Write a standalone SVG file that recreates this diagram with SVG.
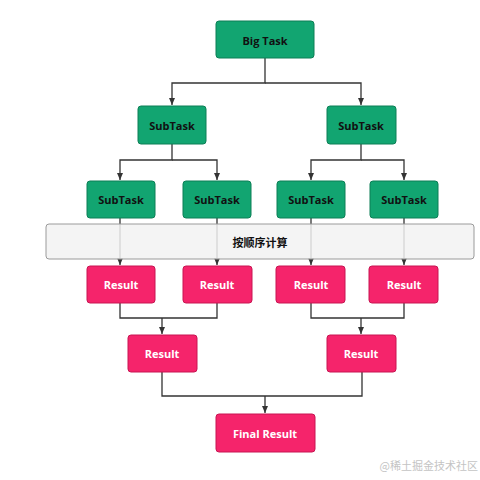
<svg xmlns="http://www.w3.org/2000/svg" width="480" height="480" viewBox="0 0 480 480">
<style>
.g{fill:#12a571;stroke:#0c7f56;stroke-width:1}
.p{fill:#f5246b;stroke:#c81552;stroke-width:1}
.tg{font-family:"Open Sans","Noto Sans",sans-serif;font-weight:bold;font-size:11px;fill:#111;text-anchor:middle;dominant-baseline:central}
.tp{font-family:"Open Sans","Noto Sans",sans-serif;font-weight:bold;font-size:11px;fill:#fff;text-anchor:middle;dominant-baseline:central}
.c{fill:none;stroke:#333;stroke-width:1.3}
</style>
<defs>
<marker id="a" markerWidth="8" markerHeight="8" refX="7" refY="4" orient="auto" markerUnits="userSpaceOnUse">
<path d="M0,1 L7,4 L0,7 Z" fill="#333"/>
</marker>
</defs>
<rect width="480" height="480" fill="#fff"/>
<g id="connectors">
<path class="c" d="M265,58 V83 H172 V105" marker-end="url(#a)"/>
<path class="c" d="M265,83 H361 V105" marker-end="url(#a)"/>
<path class="c" d="M172,144 V160 H120 V180" marker-end="url(#a)"/>
<path class="c" d="M172,160 H217 V180" marker-end="url(#a)"/>
<path class="c" d="M361,144 V160 H311 V180" marker-end="url(#a)"/>
<path class="c" d="M361,160 H404 V180" marker-end="url(#a)"/>
<path class="c" d="M120,218 V265" marker-end="url(#a)"/>
<path class="c" d="M217,218 V265" marker-end="url(#a)"/>
<path class="c" d="M311,218 V265" marker-end="url(#a)"/>
<path class="c" d="M404,218 V265" marker-end="url(#a)"/>
<path class="c" d="M120,303 V318 H217 V303"/>
<path class="c" d="M162,318 V334" marker-end="url(#a)"/>
<path class="c" d="M311,303 V318 H404 V303"/>
<path class="c" d="M361,318 V334" marker-end="url(#a)"/>
<path class="c" d="M162,372 V396 H362 V372"/>
<path class="c" d="M265,396 V413" marker-end="url(#a)"/>
</g>
<g id="band">
<rect x="46" y="224" width="428" height="35" rx="3" fill="#f2f2f2" fill-opacity="0.85" stroke="#9a9a9a" stroke-width="1"/>
<text x="260" y="242" class="tg" font-family="'Noto Sans CJK SC',sans-serif" style="font-family:'Noto Sans CJK SC',sans-serif">按顺序计算</text>
</g>
<g id="bigtask"><rect class="g" x="216" y="21" width="98" height="37" rx="3"/><text class="tg" x="265" y="40">Big Task</text></g>
<g id="sub-l"><rect class="g" x="138" y="106" width="68" height="38" rx="3"/><text class="tg" x="172" y="125">SubTask</text></g>
<g id="sub-r"><rect class="g" x="327" y="106" width="69" height="38" rx="3"/><text class="tg" x="361" y="125">SubTask</text></g>
<g id="sub-ll"><rect class="g" x="87" y="181" width="68" height="37" rx="3"/><text class="tg" x="121" y="199">SubTask</text></g>
<g id="sub-lr"><rect class="g" x="183" y="181" width="68" height="37" rx="3"/><text class="tg" x="217" y="199">SubTask</text></g>
<g id="sub-rl"><rect class="g" x="277" y="181" width="68" height="37" rx="3"/><text class="tg" x="311" y="199">SubTask</text></g>
<g id="sub-rr"><rect class="g" x="370" y="181" width="68" height="37" rx="3"/><text class="tg" x="404" y="199">SubTask</text></g>
<g id="res-ll"><rect class="p" x="87" y="266" width="68" height="37" rx="3"/><text class="tp" x="121" y="284">Result</text></g>
<g id="res-lr"><rect class="p" x="183" y="266" width="69" height="37" rx="3"/><text class="tp" x="217" y="284">Result</text></g>
<g id="res-rl"><rect class="p" x="276" y="266" width="69" height="37" rx="3"/><text class="tp" x="311" y="284">Result</text></g>
<g id="res-rr"><rect class="p" x="369" y="266" width="69" height="37" rx="3"/><text class="tp" x="404" y="284">Result</text></g>
<g id="res-l"><rect class="p" x="128" y="335" width="69" height="37" rx="3"/><text class="tp" x="162" y="353">Result</text></g>
<g id="res-r"><rect class="p" x="327" y="335" width="69" height="37" rx="3"/><text class="tp" x="361" y="353">Result</text></g>
<g id="final"><rect class="p" x="216" y="414" width="99" height="38" rx="3"/><text class="tp" x="265" y="433">Final Result</text></g>
<text x="478" y="470" text-anchor="end" style="font-family:'Noto Sans CJK SC',sans-serif;font-size:11px;fill:#c4c4c4">@稀土掘金技术社区</text>
</svg>
